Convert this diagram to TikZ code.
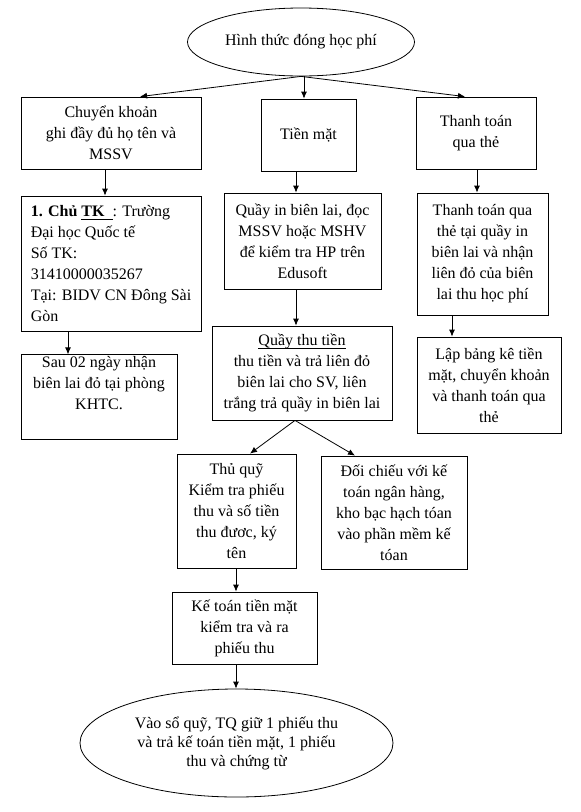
\documentclass[tikz,border=0pt]{standalone}
\usepackage{fontspec}
\setmainfont{Liberation Serif}
\usetikzlibrary{calc}
\usetikzlibrary{shapes}
\usetikzlibrary{arrows.meta}
\tikzset{>={Latex[length=7pt,width=6pt]}}
\tikzset{box/.style={rectangle, draw, align=center, inner sep=2pt, font=\fontsize{16}{21}\selectfont}}
\tikzset{oval/.style={ellipse, draw, align=center, inner sep=0pt, font=\fontsize{16}{19}\selectfont}}
\newcommand{\undertext}[1]{\leavevmode\setbox0\hbox{#1}\rlap{\rule[-3pt]{\wd0}{0.8pt}}\box0}

\begin{document}
\begin{tikzpicture}[x=1pt, y=-1pt, line width=0.8pt]

    \useasboundingbox (0,0) rectangle (581,812);

    % Top of the chart.
    \node [oval, minimum width=227pt, minimum height=68pt] (fee) at (301,42) {Hình thức đóng học phí};

    % First row.
    \node [box, minimum width=180pt, minimum height=72pt] (transfer) at (111,133) {Chuyển khoản\\ ghi đầy đủ họ tên và\\ MSSV};
    \node [box, minimum width=95pt, minimum height=72pt] (cash) at (308.5,135) {Tiền mặt};
    \node [box, minimum width=120pt, minimum height=72pt] (card) at (476,133) {Thanh toán\\ qua thẻ};

    % Bank transfer.
    \node [box, align=left, minimum width=180pt, minimum height=135pt] (account) at (111,263.5)
        {\textbf{1. Chủ \undertext{TK\ \ }}: Trường\\ Đại học Quốc tế\\ Số TK:\\ 31410000035267\\ Tại: BIDV CN Đông Sài\\ Gòn};
    \node [box, minimum width=156pt, minimum height=84pt] (receipt) at (99,397) {Sau 02 ngày nhận\\ biên lai đỏ tại phòng\\ KHTC.\\ \strut};

    % Cash.
    \node [box, minimum width=157pt, minimum height=96pt] (printdesk) at (302.5,241) {Quầy in biên lai, đọc\\ MSSV hoặc MSHV\\ để kiểm tra HP trên\\ Edusoft};
    \node [box, minimum width=180pt, minimum height=94pt] (cashdesk) at (302,373) {\undertext{Quầy thu tiền}\\ thu tiền và trả liên đỏ\\ biên lai cho SV, liên\\ trắng trả quầy in biên lai};
    \node [box, minimum width=119pt, minimum height=114pt] (cashier) at (236.5,511) {Thủ quỹ\\ Kiểm tra phiếu\\ thu và số tiền\\ thu đươc, ký\\ tên};
    \node [box, minimum width=146pt, minimum height=113pt] (reconcile) at (394,512.5) {Đối chiếu với kế\\ toán ngân hàng,\\ kho bạc hạch tóan\\ vào phần mềm kế\\ tóan};
    \node [box, minimum width=145pt, minimum height=72pt] (accountant) at (244.5,628) {Kế toán tiền mặt\\ kiểm tra và ra\\ phiếu thu};
    \node [oval, minimum width=313pt, minimum height=108pt] (ledger) at (236.5,743) {Vào sổ quỹ, TQ giữ 1 phiếu thu\\ và trả kế toán tiền mặt, 1 phiếu\\ thu và chứng từ};

    % Card payment.
    \node [box, minimum width=131pt, minimum height=122pt] (cardpay) at (482.5,254) {Thanh toán qua\\ thẻ tại quầy in\\ biên lai và nhận\\ liên đỏ của biên\\ lai thu học phí};
    \node [box, minimum width=144pt, minimum height=96pt] (summary) at (489,385) {Lập bảng kê tiền\\ mặt, chuyển khoản\\ và thanh toán qua\\ thẻ};

    % Lines from the top oval.
    \draw [->] (fee.south) -- ($(transfer.north) + (29,0)$);
    \draw [->] ($(fee.south) + (3,0)$) -- ($(cash.north) + (-4.5,0)$);
    \draw [->] (fee.south) -- ($(card.north) + (-11,0)$);

    % Lines down the transfer column.
    \draw [->] ($(transfer.south) + (-6,0)$) -- ($(account.north) + (-6,0)$);
    \draw [->] ($(account.south) + (-43,0)$) -- ($(receipt.north) + (-31,0)$);

    % Lines down the cash column.
    \draw [->] ($(cash.south) + (-12.5,0)$) -- ($(printdesk.north) + (-6.5,0)$);
    \draw [->] ($(printdesk.south) + (-6.5,0)$) -- ($(cashdesk.north) + (-6,0)$);
    \coordinate (split) at ($(cashdesk.south) + (-7,0)$);
    \draw [->] (split) -- ($(cashier.north) + (13.5,0)$);
    \draw [->] (split) -- ($(reconcile.north) + (-39,0)$);
    \draw [->] ($(cashier.south) + (-0.5,0)$) -- ($(accountant.north) + (-8.5,0)$);
    \draw [->] ($(accountant.south) + (-8.5,0)$) -- ($(ledger.north) + (-0.5,0)$);

    % Lines down the card column.
    \draw [->] ($(card.south) + (1,0)$) -- ($(cardpay.north) + (-5.5,0)$);
    \draw [->] ($(cardpay.south) + (-30.5,0)$) -- ($(summary.north) + (-37,0)$);

\end{tikzpicture}
\end{document}
